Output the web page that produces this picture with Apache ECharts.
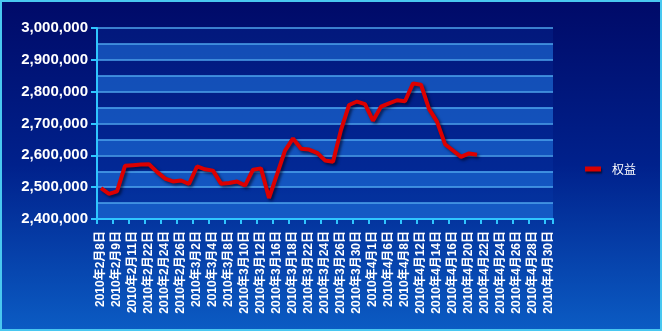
<!DOCTYPE html>
<html><head><meta charset="utf-8">
<script src="https://cdn.jsdelivr.net/npm/echarts@6/dist/echarts.min.js"></script>
<style>html,body{margin:0;padding:0;background:#fff;}#c{width:666px;height:335px;}</style>
</head><body><div id="c"></div>
<script>
const categories = ['2010年2月8日','2010年2月8日','2010年2月9日','2010年2月10日','2010年2月11日','2010年2月12日','2010年2月22日','2010年2月23日','2010年2月24日','2010年2月25日','2010年2月26日','2010年3月1日','2010年3月2日','2010年3月3日','2010年3月4日','2010年3月5日','2010年3月8日','2010年3月9日','2010年3月10日','2010年3月11日','2010年3月12日','2010年3月15日','2010年3月16日','2010年3月17日','2010年3月18日','2010年3月19日','2010年3月22日','2010年3月23日','2010年3月24日','2010年3月25日','2010年3月26日','2010年3月29日','2010年3月30日','2010年3月31日','2010年4月1日','2010年4月2日','2010年4月6日','2010年4月7日','2010年4月8日','2010年4月9日','2010年4月12日','2010年4月13日','2010年4月14日','2010年4月15日','2010年4月16日','2010年4月19日','2010年4月20日','2010年4月21日','2010年4月22日','2010年4月23日','2010年4月24日','2010年4月25日','2010年4月26日','2010年4月27日','2010年4月28日','2010年4月29日','2010年4月30日'];
const seriesName = '权益';
const equity = [2497000,2479000,2487000,2567000,2569000,2571000,2572000,2548000,2527000,2518000,
  2521000,2510000,2565000,2556000,2552000,2511000,2513000,2518000,2505000,2555000,
  2559000,2466000,2540000,2615000,2653000,2621000,2618000,2608000,2584000,2580000,
  2680000,2758000,2769000,2761000,2709000,2753000,2763000,2773000,2770000,2826000,
  2822000,2746000,2706000,2635000,2615000,2595000,2606000,2602000,
  null,null,null,null,null,null,null,null,null];
const yMin = 2400000, yMax = 3000000, yStep = 100000, yGridStep = 50000;

const chart = echarts.init(document.getElementById('c'), null, {renderer:'canvas'});
const axisCol = '#2fc6ff';
chart.setOption({
  animation: false,
  backgroundColor: '#ffffff',
  graphic: [{
    type: 'rect', z: -10, silent: true,
    shape: {x: 1, y: 1, width: 660, height: 329},
    style: {
      fill: new echarts.graphic.LinearGradient(0, 0, 0, 1, [
        {offset: 0, color: '#000a68'}, {offset: 0.5, color: '#00218c'}, {offset: 1, color: '#0b5cc4'}
      ]),
      stroke: '#49c8f0', lineWidth: 2
    }
  }],
  grid: {left: 97, right: 113, top: 28, bottom: 116, show: true, borderWidth: 0, backgroundColor: 'rgba(10,70,190,0.18)'},
  legend: {
    left: 580, top: 158, orient: 'vertical',
    icon: 'rect', itemWidth: 16, itemHeight: 5,
    textStyle: {color: '#ffffff', fontSize: 12, fontFamily: 'Noto Sans CJK SC', padding: [0,0,0,6]},
    itemStyle: {color: '#d80000', shadowColor: 'rgba(0,0,0,0.6)', shadowBlur: 2, shadowOffsetX: 1, shadowOffsetY: 2},
    data: [seriesName]
  },
  xAxis: {
    type: 'category', data: categories, boundaryGap: true,
    axisLine: {lineStyle: {color: axisCol, width: 2}},
    axisTick: {show: true, interval: 1, length: 5, lineStyle: {color: axisCol, width: 2}},
    axisLabel: {interval: 1, rotate: 90, margin: 12, color: '#ffffff', fontSize: 12, fontWeight: 'bold', fontFamily: 'Liberation Sans, Arial, Noto Sans CJK SC'},
    splitLine: {show: false}
  },
  yAxis: [{
    type: 'value', min: yMin, max: yMax, interval: yStep,
    axisLine: {show: true, lineStyle: {color: axisCol, width: 2}},
    axisTick: {show: true, length: 6, lineStyle: {color: axisCol, width: 2}},
    axisLabel: {margin: 9, color: '#ffffff', fontSize: 15, fontWeight: 'bold', fontFamily: 'Liberation Sans, Arial',
      formatter: v => v.toString().replace(/\B(?=(\d{3})+(?!\d))/g, ',')},
    splitLine: {show: false}
  }, {
    type: 'value', min: yMin, max: yMax, interval: yGridStep, position: 'left',
    axisLine: {show: false}, axisTick: {show: false}, axisLabel: {show: false},
    splitLine: {show: true, lineStyle: {color: '#4ea4ec', width: 1.5}},
    splitArea: {show: true, areaStyle: {color: ['rgba(35,120,225,0.55)', 'rgba(0,0,0,0)']}}
  }],
  series: [{
    name: seriesName, type: 'line', data: equity, yAxisIndex: 0,
    symbol: 'none', smooth: false,
    lineStyle: {color: '#dc0000', width: 4, shadowColor: 'rgba(0,0,20,0.6)', shadowBlur: 3, shadowOffsetX: 2, shadowOffsetY: 2},
    itemStyle: {color: '#dc0000'},
    z: 5
  }]
});
</script></body></html>
